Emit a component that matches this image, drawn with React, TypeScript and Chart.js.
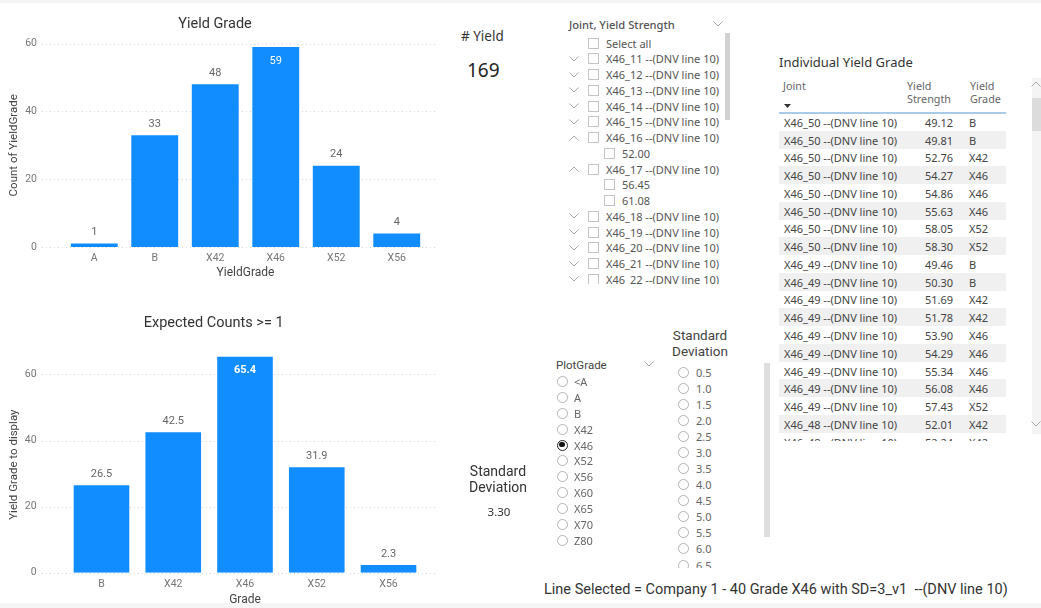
import React, { useEffect, useRef } from 'react';
import { Chart, registerables } from 'chart.js';

Chart.register(...registerables);

// ---------- data ----------
const gradeLabels = ['A', 'B', 'X42', 'X46', 'X52', 'X56'];
const gradeCounts = [1, 33, 48, 59, 24, 4];
const expectedLabels = ['B', 'X42', 'X46', 'X52', 'X56'];
const expectedCounts = [26.5, 42.5, 65.4, 31.9, 2.3];
const yTickValues = [0, 20, 40, 60];

const yieldCount = '169';
const stdDevValue = '3.30';

const jointSlicerItems = [
  { text: 'Select all', kind: 'all' },
  { text: 'X46_11 --(DNV line 10)', kind: 'collapsed' },
  { text: 'X46_12 --(DNV line 10)', kind: 'collapsed' },
  { text: 'X46_13 --(DNV line 10)', kind: 'collapsed' },
  { text: 'X46_14 --(DNV line 10)', kind: 'collapsed' },
  { text: 'X46_15 --(DNV line 10)', kind: 'collapsed' },
  { text: 'X46_16 --(DNV line 10)', kind: 'expanded' },
  { text: '52.00', kind: 'child' },
  { text: 'X46_17 --(DNV line 10)', kind: 'expanded' },
  { text: '56.45', kind: 'child' },
  { text: '61.08', kind: 'child' },
  { text: 'X46_18 --(DNV line 10)', kind: 'collapsed' },
  { text: 'X46_19 --(DNV line 10)', kind: 'collapsed' },
  { text: 'X46_20 --(DNV line 10)', kind: 'collapsed' },
  { text: 'X46_21 --(DNV line 10)', kind: 'collapsed' },
  { text: 'X46_22 --(DNV line 10)', kind: 'collapsed' },
];

const plotGradeOptions = ['<A', 'A', 'B', 'X42', 'X46', 'X52', 'X56', 'X60', 'X65', 'X70', 'Z80'];
const plotGradeSelected = 'X46';
const stdDevOptions = ['0.5', '1.0', '1.5', '2.0', '2.5', '3.0', '3.5', '4.0', '4.5', '5.0', '5.5', '6.0', '6.5'];

const tableJoints = [
  'X46_50 --(DNV line 10)', 'X46_50 --(DNV line 10)', 'X46_50 --(DNV line 10)', 'X46_50 --(DNV line 10)',
  'X46_50 --(DNV line 10)', 'X46_50 --(DNV line 10)', 'X46_50 --(DNV line 10)', 'X46_50 --(DNV line 10)',
  'X46_49 --(DNV line 10)', 'X46_49 --(DNV line 10)', 'X46_49 --(DNV line 10)', 'X46_49 --(DNV line 10)',
  'X46_49 --(DNV line 10)', 'X46_49 --(DNV line 10)', 'X46_49 --(DNV line 10)', 'X46_49 --(DNV line 10)',
  'X46_49 --(DNV line 10)', 'X46_48 --(DNV line 10)', 'X46_48 --(DNV line 10)',
];
const tableStrengths = ['49.12', '49.81', '52.76', '54.27', '54.86', '55.63', '58.05', '58.30', '49.46', '50.30', '51.69', '51.78', '53.90', '54.29', '55.34', '56.08', '57.43', '52.01', '52.24'];
const tableGrades = ['B', 'B', 'X42', 'X46', 'X46', 'X46', 'X52', 'X52', 'B', 'B', 'X42', 'X42', 'X46', 'X46', 'X46', 'X46', 'X52', 'X42', 'X42'];

const lineSelectedText = 'Line Selected = Company 1 - 40 Grade X46 with SD=3_v1  --(DNV line 10)';

// ---------- styles ----------
const FONT_UI = '"Noto Sans", "Open Sans", sans-serif';
const FONT_DIN = 'Roboto, "Noto Sans", sans-serif';
const BAR_COLOR = '#118DFF';

const gridPlugin = {
  id: 'pbiGrid',
  beforeDatasetsDraw(chart: any, _args: any, opts: any) {
    const { ctx } = chart;
    const y = chart.scales.y;
    ctx.save();
    ctx.strokeStyle = '#d6d6d6';
    ctx.lineWidth = 1;
    ctx.setLineDash([1, 3]);
    yTickValues.forEach((v) => {
      const py = Math.round(y.getPixelForValue(v)) + 0.5;
      ctx.beginPath();
      ctx.moveTo(opts.left, py);
      ctx.lineTo(opts.right, py);
      ctx.stroke();
    });
    ctx.restore();
  },
};

const labelPlugin = {
  id: 'pbiLabels',
  afterDatasetsDraw(chart: any, _args: any, opts: any) {
    const { ctx, chartArea } = chart;
    const meta = chart.getDatasetMeta(0);
    const data = chart.data.datasets[0].data as number[];
    ctx.save();
    ctx.textAlign = 'center';
    ctx.textBaseline = 'middle';
    meta.data.forEach((el: any, i: number) => {
      const txt = data[i].toFixed(opts.decimals);
      const inside = el.y - 20 < chartArea.top;
      if (inside) {
        ctx.fillStyle = '#ffffff';
        ctx.font = `${opts.insideWeight} 11px ${FONT_DIN}`;
        ctx.fillText(txt, el.x, el.y + 14);
      } else {
        ctx.fillStyle = '#666666';
        ctx.font = `400 11px ${FONT_DIN}`;
        ctx.fillText(txt, el.x, el.y - 11);
      }
    });
    ctx.restore();
  },
};

type BarProps = {
  labels: string[];
  values: number[];
  decimals: number;
  title: string;
  xTitle: string;
  yTitle: string;
  yMax: number;
  left: number;
  top: number;
  width: number;
  height: number;
  padRight: number;
  yAxisWidth: number;
  yTickPad: number;
  titlePadTop: number;
  titlePadBottom: number;
  xAxisHeight: number;
  xTitlePadBottom: number;
  insideWeight: string;
};

function BarChart(p: BarProps) {
  const ref = useRef<HTMLCanvasElement | null>(null);
  useEffect(() => {
    if (!ref.current) return;
    const chart = new Chart(ref.current, {
      type: 'bar',
      data: {
        labels: p.labels,
        datasets: [
          {
            data: p.values,
            backgroundColor: BAR_COLOR,
            categoryPercentage: 1,
            barPercentage: 0.775,
          },
        ],
      },
      options: {
        responsive: false,
        maintainAspectRatio: false,
        animation: false,
        layout: { padding: { left: 3, right: p.padRight, top: 0, bottom: 0 } },
        plugins: {
          legend: { display: false },
          tooltip: { enabled: false },
          title: {
            display: true,
            text: p.title,
            color: '#333333',
            font: { family: FONT_DIN, size: 14.5, weight: 'normal' },
            padding: { top: p.titlePadTop, bottom: p.titlePadBottom },
          },
          pbiGrid: { left: 42, right: 438 },
          pbiLabels: { decimals: p.decimals, insideWeight: p.insideWeight },
        } as any,
        scales: {
          x: {
            grid: { display: false, drawTicks: false },
            border: { display: false },
            ticks: {
              color: '#777777',
              font: { family: FONT_DIN, size: 10.5 },
              padding: 5,
              maxRotation: 0,
              autoSkip: false,
            },
            title: {
              display: true,
              text: p.xTitle,
              color: '#444444',
              font: { family: FONT_DIN, size: 12 },
              padding: { top: 0, bottom: p.xTitlePadBottom },
            },
            afterFit: (s: any) => {
              s.height = p.xAxisHeight;
            },
          },
          y: {
            min: 0,
            max: p.yMax,
            grid: { display: false, drawTicks: false },
            border: { display: false },
            ticks: {
              color: '#777777',
              font: { family: FONT_DIN, size: 10.5 },
              padding: p.yTickPad,
            },
            afterBuildTicks: (s: any) => {
              s.ticks = yTickValues.map((v) => ({ value: v }));
            },
            title: {
              display: true,
              text: p.yTitle,
              color: '#444444',
              font: { family: FONT_DIN, size: 11.5 },
              padding: { top: 4, bottom: 0 },
            },
            afterFit: (s: any) => {
              s.width = p.yAxisWidth;
            },
          },
        },
      } as any,
      plugins: [gridPlugin, labelPlugin],
    });
    return () => chart.destroy();
  }, []);
  return (
    <canvas
      ref={ref}
      width={p.width}
      height={p.height}
      style={{ position: 'absolute', left: p.left, top: p.top, width: p.width, height: p.height }}
    />
  );
}

// ---------- small UI helpers ----------
function Txt(props: {
  x: number;
  y: number;
  size: number;
  color?: string;
  family?: string;
  weight?: number;
  children: React.ReactNode;
  center?: boolean;
  right?: boolean;
}) {
  const h = Math.round(props.size * 1.4);
  const style: React.CSSProperties = {
    position: 'absolute',
    top: props.y - h / 2,
    height: h,
    lineHeight: `${h}px`,
    fontSize: props.size,
    fontFamily: props.family || FONT_UI,
    fontWeight: props.weight || 400,
    color: props.color || '#444',
    whiteSpace: 'pre',
  };
  if (props.center) {
    style.left = props.x - 150;
    style.width = 300;
    style.textAlign = 'center';
  } else if (props.right) {
    style.left = props.x - 200;
    style.width = 200;
    style.textAlign = 'right';
  } else {
    style.left = props.x;
  }
  return <div style={style}>{props.children}</div>;
}

function Chevron({ x, y, up }: { x: number; y: number; up?: boolean }) {
  return (
    <svg width={10} height={6} style={{ position: 'absolute', left: x - 5, top: y - 3 }}>
      <polyline
        points={up ? '0.5,5.5 5,1 9.5,5.5' : '0.5,0.5 5,5 9.5,0.5'}
        fill="none"
        stroke="#a8a8a8"
        strokeWidth={1}
      />
    </svg>
  );
}

function Checkbox({ x, y }: { x: number; y: number }) {
  return (
    <div
      style={{
        position: 'absolute',
        left: x,
        top: y - 5.5,
        width: 11,
        height: 11,
        border: '1px solid #c4c4c4',
        boxSizing: 'border-box',
      }}
    />
  );
}

function Radio({ x, y, on }: { x: number; y: number; on?: boolean }) {
  return (
    <div
      style={{
        position: 'absolute',
        left: x - 5.5,
        top: y - 5.5,
        width: 11,
        height: 11,
        borderRadius: '50%',
        border: on ? '1.5px solid #222' : '1px solid #b4b4b4',
        boxSizing: 'border-box',
        background: '#fff',
      }}
    >
      {on && (
        <div
          style={{
            position: 'absolute',
            left: 1.25,
            top: 1.25,
            width: 5.5,
            height: 5.5,
            borderRadius: '50%',
            background: '#111',
          }}
        />
      )}
    </div>
  );
}

export default function App() {
  const rowH = 17.76;
  const rowTop = 113;
  return (
    <div
      style={{
        position: 'fixed',
        left: 0,
        top: 0,
        width: 1041,
        height: 608,
        background: '#fff',
        overflow: 'hidden',
        fontFamily: FONT_UI,
      }}
    >
      <div style={{ position: 'absolute', left: 0, top: 0, width: 1041, height: 3, background: '#f3f3f3' }} />
      <div style={{ position: 'absolute', left: 0, top: 603, width: 1041, height: 5, background: '#f5f5f5' }} />

      <BarChart
        labels={gradeLabels}
        values={gradeCounts}
        decimals={0}
        title="Yield Grade"
        xTitle="YieldGrade"
        yTitle="Count of YieldGrade"
        yMax={60}
        left={0}
        top={0}
        width={440}
        height={287}
        padRight={13}
        yAxisWidth={61}
        yTickPad={27}
        titlePadTop={15.2}
        titlePadBottom={11}
        xAxisHeight={40}
        xTitlePadBottom={6.5}
        insideWeight="400"
      />
      <BarChart
        labels={expectedLabels}
        values={expectedCounts}
        decimals={1}
        title="Expected Counts >= 1"
        xTitle="Grade"
        yTitle="Yield Grade to display"
        yMax={65.4}
        left={0}
        top={300}
        width={440}
        height={308}
        padRight={15.6}
        yAxisWidth={62.6}
        yTickPad={29}
        titlePadTop={14.6}
        titlePadBottom={24.6}
        xAxisHeight={35}
        xTitlePadBottom={0.5}
        insideWeight="bold"
      />

      {/* # Yield card */}
      <Txt x={461} y={36} size={13.5} color="#333">
        # Yield
      </Txt>
      <Txt x={467} y={70} size={19} color="#252423">
        {yieldCount}
      </Txt>

      {/* Joint slicer */}
      <Txt x={569} y={25} size={11.2} color="#555" weight={500}>
        Joint, Yield Strength
      </Txt>
      <Chevron x={718} y={24} />
      <div style={{ position: 'absolute', left: 725, top: 33, width: 5, height: 87, background: '#d2d2d2' }} />
      <div style={{ position: 'absolute', left: 560, top: 33, width: 164, height: 251, overflow: 'hidden' }}>
        {jointSlicerItems.map((it, i) => {
          const y = 43 + i * 15.75 - 33;
          const child = it.kind === 'child';
          return (
            <React.Fragment key={i}>
              {(it.kind === 'collapsed' || it.kind === 'expanded') && (
                <Chevron x={574 - 560} y={y} up={it.kind === 'expanded'} />
              )}
              <Checkbox x={(child ? 604 : 588) - 560} y={y} />
              <Txt x={(child ? 622 : 606) - 560} y={y} size={11} color="#555">
                {it.text}
              </Txt>
            </React.Fragment>
          );
        })}
      </div>

      {/* Individual Yield Grade table */}
      <Txt x={779} y={62} size={13} color="#333">
        Individual Yield Grade
      </Txt>
      <Txt x={783} y={85} size={10.8} color="#666">
        Joint
      </Txt>
      <Txt x={907} y={85} size={10.8} color="#666">
        Yield
      </Txt>
      <Txt x={907} y={98} size={10.8} color="#666">
        Strength
      </Txt>
      <Txt x={970} y={85} size={10.8} color="#666">
        Yield
      </Txt>
      <Txt x={970} y={98} size={10.8} color="#666">
        Grade
      </Txt>
      <svg width={8} height={5} style={{ position: 'absolute', left: 784, top: 104 }}>
        <polygon points="0,0 7,0 3.5,4" fill="#333" />
      </svg>
      <div style={{ position: 'absolute', left: 779, top: 112, width: 227, height: 1.5, background: '#a9cbe8' }} />
      <div style={{ position: 'absolute', left: 779, top: 114, width: 227, height: 327, overflow: 'hidden' }}>
        {tableJoints.map((j, i) => {
          const top = rowTop + i * rowH - 114;
          const cy = top + rowH / 2 + 0.5;
          return (
            <React.Fragment key={i}>
              <div
                style={{
                  position: 'absolute',
                  left: 0,
                  top,
                  width: 227,
                  height: rowH,
                  background: i % 2 === 1 ? '#f0f0f0' : '#fff',
                }}
              />
              <Txt x={5} y={cy} size={11} color="#444">
                {j}
              </Txt>
              <Txt x={174} y={cy} size={11} color="#444" right>
                {tableStrengths[i]}
              </Txt>
              <Txt x={190} y={cy} size={11} color="#444">
                {tableGrades[i]}
              </Txt>
            </React.Fragment>
          );
        })}
      </div>
      <div style={{ position: 'absolute', left: 1032, top: 78, width: 9, height: 356, background: '#f4f4f4' }} />
      <div style={{ position: 'absolute', left: 1032, top: 98, width: 9, height: 33, background: '#dcdcdc' }} />
      <Chevron x={1036} y={84} up />
      <Chevron x={1036} y={424} />

      {/* Standard deviation card */}
      <Txt x={498} y={471} size={14} color="#333" family={FONT_DIN} center>
        Standard
      </Txt>
      <Txt x={498} y={487} size={14} color="#333" family={FONT_DIN} center>
        Deviation
      </Txt>
      <Txt x={499} y={512} size={11.5} color="#333" center>
        {stdDevValue}
      </Txt>

      {/* PlotGrade slicer */}
      <Txt x={556} y={365} size={11.5} color="#444" family={FONT_DIN}>
        PlotGrade
      </Txt>
      <Chevron x={649} y={364} />
      {plotGradeOptions.map((g, i) => {
        const y = 381.7 + i * 15.83;
        return (
          <React.Fragment key={g}>
            <Radio x={562.5} y={y} on={g === plotGradeSelected} />
            <Txt x={574} y={y} size={11} color="#666">
              {g}
            </Txt>
          </React.Fragment>
        );
      })}

      {/* Standard Deviation slicer */}
      <Txt x={700} y={335} size={13.5} color="#444" family={FONT_DIN} center>
        Standard
      </Txt>
      <Txt x={700} y={351} size={13.5} color="#444" family={FONT_DIN} center>
        Deviation
      </Txt>
      <div style={{ position: 'absolute', left: 670, top: 362, width: 90, height: 206, overflow: 'hidden' }}>
        {stdDevOptions.map((s, i) => {
          const y = 372.3 + i * 16.06 - 362;
          return (
            <React.Fragment key={s}>
              <Radio x={683.5 - 670} y={y} />
              <Txt x={696 - 670} y={y} size={11} color="#666">
                {s}
              </Txt>
            </React.Fragment>
          );
        })}
      </div>
      <div style={{ position: 'absolute', left: 764, top: 363, width: 6, height: 174, background: '#dedede' }} />

      {/* Line selected text */}
      <Txt x={544} y={590} size={14.5} color="#333" family={FONT_DIN}>
        {lineSelectedText}
      </Txt>
    </div>
  );
}
